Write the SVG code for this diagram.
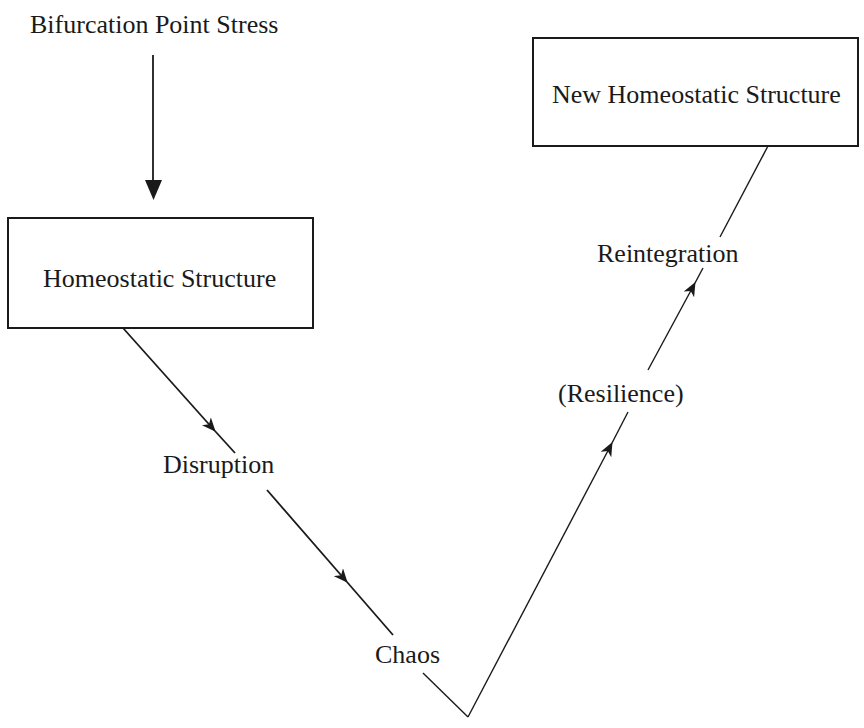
<svg xmlns="http://www.w3.org/2000/svg" width="864" height="728" viewBox="0 0 864 728">
<defs>
<style>
text{font-family:"Liberation Serif","Times New Roman",serif;font-size:26px;fill:#1a1a1a}
.box{fill:#fff;stroke:#1a1a1a;stroke-width:2}
.ln{stroke:#1a1a1a;stroke-width:1.8;fill:none}
.rn{stroke:#1a1a1a;stroke-width:1.4;fill:none}
</style>
<marker id="mid" markerUnits="userSpaceOnUse" markerWidth="16" markerHeight="12" refX="13" refY="6" orient="auto">
<path d="M0,0 L14,6 L0,12 L4,6 z" fill="#1a1a1a"/>
</marker>
</defs>
<rect width="864" height="728" fill="#fff"/>
<g id="stress">
<text x="30" y="33">Bifurcation Point Stress</text>
</g>
<g id="homeostatic">
<rect class="box" x="8" y="218" width="305" height="110"/>
<text x="43" y="287">Homeostatic Structure</text>
</g>
<g id="newhomeostatic">
<rect class="box" x="533" y="38" width="325" height="108"/>
<text x="552" y="103">New Homeostatic Structure</text>
</g>
<g id="disruption"><text x="163" y="473">Disruption</text></g>
<g id="chaos"><text x="375" y="663">Chaos</text></g>
<g id="resilience"><text x="558" y="402">(Resilience)</text></g>
<g id="reintegration"><text x="597" y="262">Reintegration</text></g>
<g id="connectors">
<line class="ln" x1="153" y1="55" x2="153" y2="182"/>
<polygon points="145,180 162,180 153.5,200" fill="#1a1a1a"/>
<line class="ln" x1="123" y1="328" x2="215" y2="431" marker-end="url(#mid)"/>
<line class="ln" x1="215" y1="431" x2="235" y2="453"/>
<line class="ln" x1="267" y1="490" x2="347" y2="582" marker-end="url(#mid)"/>
<line class="ln" x1="347" y1="582" x2="393" y2="635"/>
<line class="rn" x1="423" y1="673" x2="468" y2="717"/>
<line class="rn" x1="468" y1="717" x2="612" y2="443" marker-end="url(#mid)"/>
<line class="rn" x1="612" y1="443" x2="628" y2="412"/>
<line class="rn" x1="648" y1="370" x2="695" y2="283" marker-end="url(#mid)"/>
<line class="rn" x1="695" y1="283" x2="703" y2="268"/>
<line class="rn" x1="720" y1="237" x2="768" y2="146"/>
</g>
</svg>
